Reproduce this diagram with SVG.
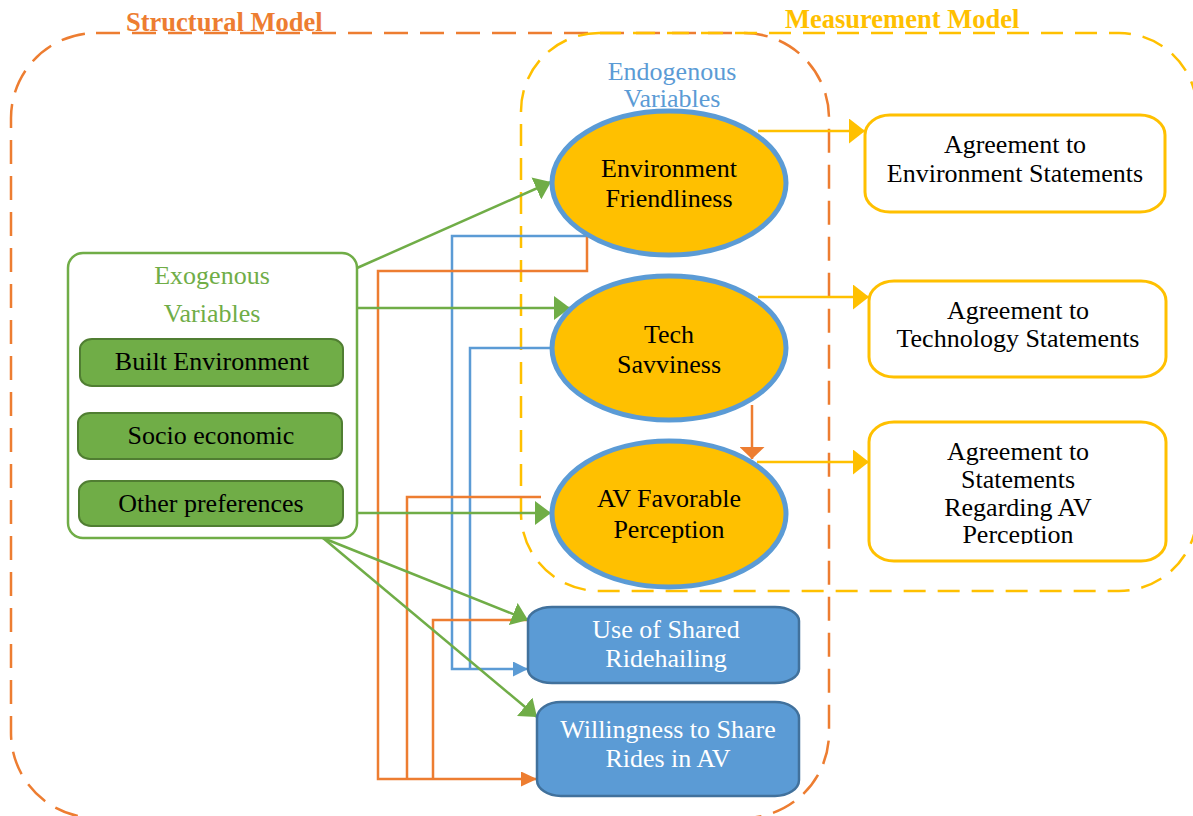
<svg xmlns="http://www.w3.org/2000/svg" width="1193" height="816" viewBox="0 0 1193 816">
<style>
text{font-family:"Liberation Serif","Times New Roman",serif;font-size:26px;text-anchor:middle}
.title{font-weight:bold;font-size:26.5px;text-anchor:start}
.c{fill:none;stroke-width:2.5}
.g{stroke:#70AD47}.b{stroke:#5B9BD5}.o{stroke:#ED7D31}.y{stroke:#FFC000}
.ell{fill:#FFC000;stroke:#5B9BD5;stroke-width:5}
.meas{fill:#FFFFFF;stroke:#FFC000;stroke-width:3}
.out{fill:#5B9BD5;stroke:#41719C;stroke-width:2.5}
.exo{fill:#70AD47;stroke:#507E32;stroke-width:2}
</style>
<defs>
<marker id="mG" markerUnits="userSpaceOnUse" markerWidth="16" markerHeight="24" refX="16" refY="12" orient="auto"><path d="M0,0 L16,12 L0,24 z" fill="#70AD47"/></marker>
<marker id="mY" markerUnits="userSpaceOnUse" markerWidth="16" markerHeight="25" refX="16" refY="12.5" orient="auto"><path d="M0,0 L16,12.5 L0,25 z" fill="#FFC000"/></marker>
<marker id="mB" markerUnits="userSpaceOnUse" markerWidth="15" markerHeight="15" refX="15" refY="7.5" orient="auto"><path d="M0,0 L15,7.5 L0,15 z" fill="#5B9BD5"/></marker>
<marker id="mO" markerUnits="userSpaceOnUse" markerWidth="16" markerHeight="15" refX="16" refY="7.5" orient="auto"><path d="M0,0 L16,7.5 L0,15 z" fill="#ED7D31"/></marker>
<marker id="mO2" markerUnits="userSpaceOnUse" markerWidth="12" markerHeight="25" refX="12" refY="12.5" orient="auto"><path d="M0,0 L12,12.5 L0,25 z" fill="#ED7D31"/></marker>
<clipPath id="clip3"><rect x="860" y="415" width="320" height="129"/></clipPath>
</defs>
<rect width="1193" height="816" fill="#FFFFFF"/>

<g id="structural-model">
<rect x="11" y="33" width="818" height="785" rx="85" ry="85" fill="none" stroke="#ED7D31" stroke-width="2.5" stroke-dasharray="24 12"/>
<text class="title" x="126" y="31" fill="#ED7D31">Structural Model</text>
</g>
<g id="measurement-model">
<rect x="521" y="33" width="676" height="558" rx="78" ry="78" fill="none" stroke="#FFC000" stroke-width="2.5" stroke-dasharray="22 12"/>
<text class="title" x="785" y="28" fill="#FFC000">Measurement Model</text>
</g>
<g id="endogenous-label">
<text x="672" y="80" fill="#5B9BD5">Endogenous</text>
<text x="672" y="107" fill="#5B9BD5">Variables</text>
</g>

<g id="connectors">
<path class="c b" d="M588,236 H452 V669 H528" marker-end="url(#mB)"/>
<path class="c b" d="M551,348 H470 V669"/>
<path class="c o" d="M587,236 V271 H378 V779 H537" marker-end="url(#mO)"/>
<path class="c o" d="M541,497 H407 V779"/>
<path class="c o" d="M528,620 H433 V779"/>
<path class="c o" d="M752,405 V459" marker-end="url(#mO2)"/>
<path class="c g" d="M357,268 L551,182" marker-end="url(#mG)"/>
<path class="c g" d="M357,308 L570,308" marker-end="url(#mG)"/>
<path class="c g" d="M357,513 L551,513" marker-end="url(#mG)"/>
<path class="c g" d="M323,538 L528,620" marker-end="url(#mG)"/>
<path class="c g" d="M323,538 L537,717" marker-end="url(#mG)"/>
<path class="c y" d="M758,131 H865" marker-end="url(#mY)"/>
<path class="c y" d="M758,297 H869" marker-end="url(#mY)"/>
<path class="c y" d="M757,462 H869" marker-end="url(#mY)"/>
</g>

<g id="exogenous">
<rect x="68" y="253" width="289" height="285" rx="15" ry="15" fill="#FFFFFF" stroke="#70AD47" stroke-width="2.5"/>
<text x="212" y="284" fill="#70AD47">Exogenous</text>
<text x="212" y="322" fill="#70AD47">Variables</text>
</g>
<g id="built-environment">
<rect class="exo" x="80" y="339" width="263" height="47" rx="12" ry="10"/>
<text x="212" y="370" fill="#000000">Built Environment</text>
</g>
<g id="socio-economic">
<rect class="exo" x="78" y="413" width="264" height="46" rx="12" ry="10"/>
<text x="211" y="444" fill="#000000">Socio economic</text>
</g>
<g id="other-preferences">
<rect class="exo" x="79" y="481" width="264" height="45" rx="12" ry="10"/>
<text x="211" y="512" fill="#000000">Other preferences</text>
</g>

<g id="environment-friendliness">
<ellipse class="ell" cx="669" cy="183" rx="117" ry="72"/>
<text x="669" y="177">Environment</text>
<text x="669" y="207">Friendliness</text>
</g>
<g id="tech-savviness">
<ellipse class="ell" cx="669" cy="348" rx="117" ry="72"/>
<text x="669" y="343">Tech</text>
<text x="669" y="373">Savviness</text>
</g>
<g id="av-favorable-perception">
<ellipse class="ell" cx="669" cy="514" rx="117" ry="73"/>
<text x="669" y="507">AV Favorable</text>
<text x="669" y="538">Perception</text>
</g>

<g id="use-of-shared-ridehailing">
<rect class="out" x="528" y="607" width="271" height="76" rx="24" ry="14"/>
<text x="666" y="638" fill="#FFFFFF">Use of Shared</text>
<text x="666" y="667" fill="#FFFFFF">Ridehailing</text>
</g>
<g id="willingness-to-share">
<rect class="out" x="537" y="702" width="262" height="94" rx="24" ry="16"/>
<text x="668" y="738" fill="#FFFFFF">Willingness to Share</text>
<text x="668" y="767" fill="#FFFFFF">Rides in AV</text>
</g>

<g id="env-statements">
<rect class="meas" x="865" y="115" width="300" height="97" rx="25" ry="20"/>
<text x="1015" y="153">Agreement to</text>
<text x="1015" y="182">Environment Statements</text>
</g>
<g id="tech-statements">
<rect class="meas" x="869" y="281" width="297" height="96" rx="25" ry="20"/>
<text x="1018" y="319">Agreement to</text>
<text x="1018" y="347">Technology Statements</text>
</g>
<g id="av-statements">
<rect class="meas" x="869" y="422" width="297" height="139" rx="25" ry="20"/>
<g clip-path="url(#clip3)">
<text x="1018" y="460">Agreement to</text>
<text x="1018" y="488">Statements</text>
<text x="1018" y="516">Regarding AV</text>
<text x="1018" y="543">Perception</text>
</g>
</g>
</svg>
